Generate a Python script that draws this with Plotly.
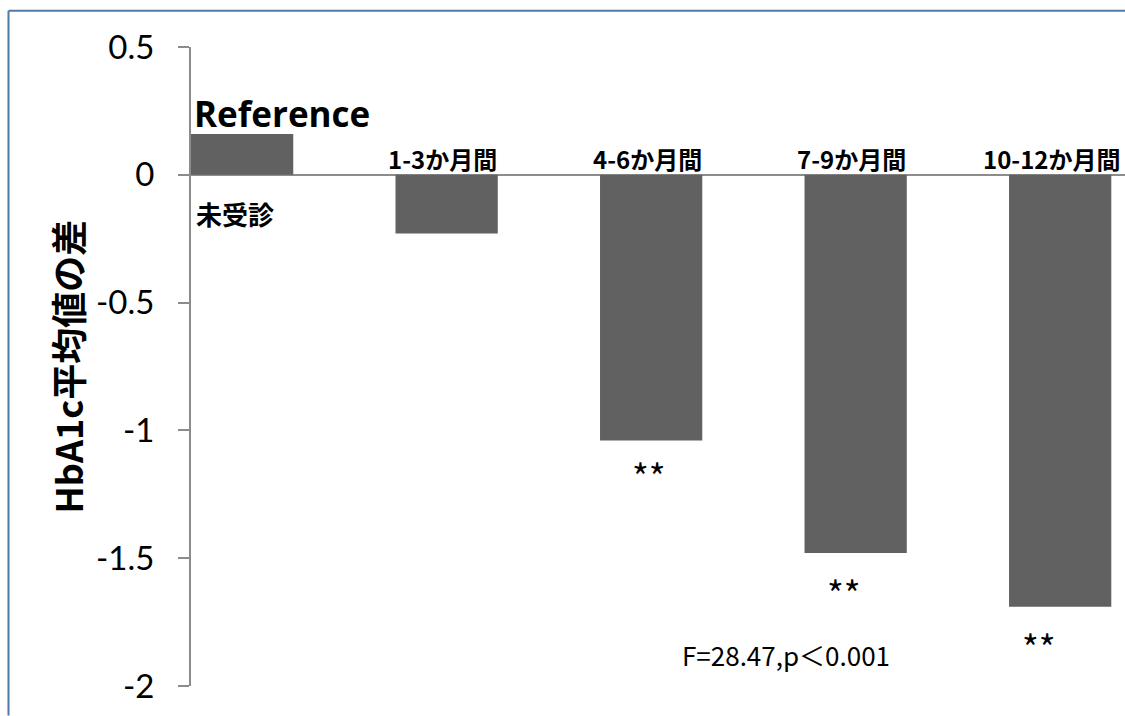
import plotly.graph_objects as go

# ---- data ----
categories = ["Reference", "1-3か月間", "4-6か月間", "7-9か月間", "10-12か月間"]
values = [0.16, -0.23, -1.04, -1.48, -1.69]
significance = ["", "", "**", "**", "**"]
y_ticks = [0.5, 0, -0.5, -1, -1.5, -2]
y_tick_labels = ["0.5", "0", "-0.5", "-1", "-1.5", "-2"]
y_title = "HbA1c平均値の差"
ref_sub_label = "未受診"
stat_text = "F=28.47,p＜0.001"
stat_pos = (2.66, -1.876)

x_pos = list(range(len(categories)))

BAR = "#616161"
AXIS = "#8C8C8C"
BORDER = "#4F79A8"
JP = "Noto Sans CJK JP"

fig = go.Figure()
fig.add_trace(go.Bar(
    x=x_pos, y=values, width=0.5,
    marker=dict(color=BAR, line=dict(width=0)),
    showlegend=False, hoverinfo="skip",
))

annotations = []
label_xshift = [0, -4, -4, -4, -8]
for i, (c, v) in enumerate(zip(categories, values)):
    if i == 0:
        annotations.append(dict(
            x=x_pos[i] - 0.25, y=v, xref="x", yref="y", text="<b>%s</b>" % c,
            showarrow=False, xanchor="left", yanchor="bottom", xshift=1, yshift=-5,
            font=dict(family="Open Sans", size=35, color="black"),
        ))
        annotations.append(dict(
            x=x_pos[i] - 0.25, y=0, xref="x", yref="y", text="<b>%s</b>" % ref_sub_label,
            showarrow=False, xanchor="left", yanchor="middle", xshift=3, yshift=-39,
            font=dict(family=JP, size=26, color="black"),
        ))
    else:
        annotations.append(dict(
            x=x_pos[i], y=0, xref="x", yref="y", text="<b>%s</b>" % c,
            showarrow=False, xanchor="center", yanchor="bottom",
            xshift=label_xshift[i], yshift=-3,
            font=dict(family=JP, size=24, color="black"),
        ))

sig_xshift = [0, 0, -2, -12, -21]
sig_yshift = [0, 0, -34, -39, -39]
for i, (s, v) in enumerate(zip(significance, values)):
    if s:
        annotations.append(dict(
            x=x_pos[i], y=v, xref="x", yref="y", text=s, showarrow=False,
            xanchor="center", yanchor="middle",
            xshift=sig_xshift[i], yshift=sig_yshift[i],
            font=dict(family=JP, size=36, color="black"),
        ))

annotations.append(dict(
    x=stat_pos[0], y=stat_pos[1], xref="x", yref="y", text=stat_text,
    showarrow=False, xanchor="center", yanchor="middle",
    font=dict(family=JP, size=26, color="black"),
))

annotations.append(dict(
    x=-0.1328, y=0.5, xref="paper", yref="paper", text="<b>%s</b>" % y_title,
    showarrow=False, textangle=-90, xanchor="center", yanchor="middle",
    font=dict(family=JP, size=36, color="black"),
))

fig.update_layout(
    width=1125, height=716,
    margin=dict(l=191, r=0, t=47, b=30, pad=0),
    paper_bgcolor="white", plot_bgcolor="white",
    annotations=annotations,
    shapes=[
        dict(type="line", xref="paper", yref="paper",
             x0=-0.1954, x1=1.0, y0=1.0567, y1=1.0567,
             line=dict(color=BORDER, width=2), layer="below"),
        dict(type="line", xref="paper", yref="paper",
             x0=-0.1954, x1=-0.1954, y0=-0.046, y1=1.0567,
             line=dict(color=BORDER, width=2), layer="below"),
    ],
    xaxis=dict(
        range=[-0.25, 4.317], showticklabels=False, showgrid=False,
        zeroline=False, showline=False, ticks="", fixedrange=True,
    ),
    yaxis=dict(
        range=[-2, 0.5], tickvals=y_ticks, ticktext=y_tick_labels,
        showgrid=False, zeroline=True, zerolinecolor=AXIS, zerolinewidth=2,
        showline=True, linecolor=AXIS, linewidth=2,
        ticks="outside", ticklen=11, tickcolor=AXIS, tickwidth=2,
        ticklabelstandoff=17,
        tickfont=dict(family="Lato", size=33, color="black"),
        fixedrange=True,
    ),
)

fig.write_html("out.html")
